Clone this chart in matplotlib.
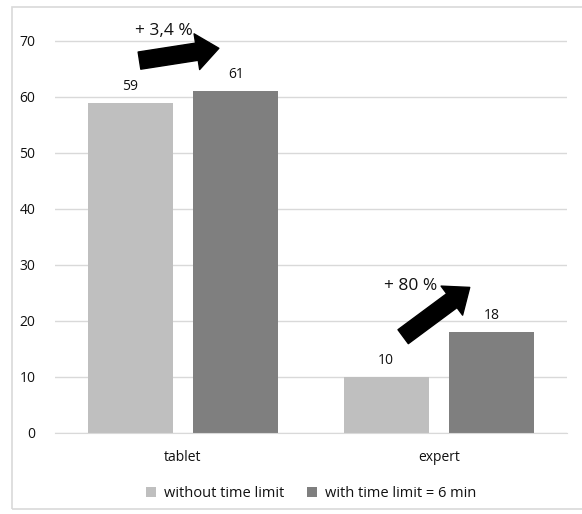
import numpy as np
import matplotlib.pyplot as plt
from matplotlib.patches import Rectangle

categories = ['tablet', 'expert']
without_limit = [59, 10]
with_limit = [61, 18]
series_names = ['without time limit', 'with time limit = 6 min']
changes = ['+ 3,4 %', '+ 80 %']

light = '#bfbfbf'
dark = '#7f7f7f'
txt = '#111111'

plt.rcParams['font.family'] = ['Open Sans', 'DejaVu Sans']

fig = plt.figure(figsize=(5.82, 5.14), dpi=100)
ax = fig.add_axes([55 / 582, 81 / 514, 512 / 582, 420 / 514])

# outer chart frame
fig.patches.append(Rectangle((12 / 582, 5 / 514), 580 / 582, 502 / 514,
                             transform=fig.transFigure, fill=False,
                             edgecolor='#d9d9d9', linewidth=1.2))

x = np.arange(len(categories))
w = 0.333
gap = 0.08
b1 = ax.bar(x - (w + gap) / 2, without_limit, w, color=light, label=series_names[0], zorder=2)
b2 = ax.bar(x + (w + gap) / 2, with_limit, w, color=dark, label=series_names[1], zorder=2)

for bars in (b1, b2):
    for r in bars:
        ax.text(r.get_x() + r.get_width() / 2, r.get_height() + 1.6, f'{r.get_height():.0f}',
                ha='center', va='bottom', fontsize=10, color=txt)

ax.set_xlim(-0.5, 1.5)
ax.set_ylim(0, 75)
ax.set_yticks(range(0, 71, 10))
ax.set_xticks(x)
ax.set_xticklabels(categories)
ax.grid(axis='y', color='#d9d9d9', linewidth=1, zorder=0)
for s in ['top', 'right', 'left']:
    ax.spines[s].set_visible(False)
ax.spines['bottom'].set_color('#d9d9d9')
ax.tick_params(length=0, labelsize=10, colors=txt)
ax.tick_params(axis='y', pad=14)
ax.tick_params(axis='x', pad=12)

# change arrows
arrow_style = dict(arrowstyle='simple,head_length=1.6,head_width=2.6,tail_width=1.25',
                   color='black', mutation_scale=10, shrinkA=0, shrinkB=0)
ax.annotate('', xy=(0.14, 68.7), xytext=(-0.17, 66.5), arrowprops=arrow_style)
ax.annotate('', xy=(1.12, 26.0), xytext=(0.86, 17.2), arrowprops=arrow_style)
ax.text(-0.075, 71.8, changes[0], ha='center', va='center', fontsize=12.5, color=txt)
ax.text(0.89, 26.2, changes[1], ha='center', va='center', fontsize=12.5, color=txt)

ax.legend(loc='upper center', bbox_to_anchor=(0.5, -0.095), ncol=2, frameon=False,
          fontsize=10.5, handlelength=0.7, handleheight=0.7, columnspacing=1.6,
          handletextpad=0.5, labelcolor=txt)

fig.savefig('out.png', dpi=100)
